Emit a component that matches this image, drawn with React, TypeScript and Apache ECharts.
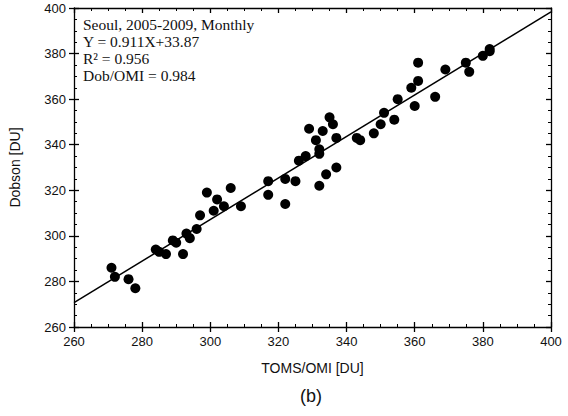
import React, { useEffect, useRef } from "react";
import * as echarts from "echarts";

const xTicks = [260, 280, 300, 320, 340, 360, 380, 400];
const yTicks = [260, 280, 300, 320, 340, 360, 380, 400];

const tomsOmi = [
  271, 272, 276, 278, 284, 285, 287, 289, 290, 292, 293, 294, 296, 297, 299, 301, 302, 304, 306, 309,
  317, 317, 322, 322, 325, 326, 328, 329, 331, 332, 332, 332, 333, 334, 335, 336, 337, 337, 343, 344,
  348, 350, 351, 354, 355, 359, 360, 361, 361, 366, 369, 375, 376, 380, 382, 382,
];
const dobson = [
  286, 282, 281, 277, 294, 293, 292, 298, 297, 292, 301, 299, 303, 309, 319, 311, 316, 313, 321, 313,
  324, 318, 325, 314, 324, 333, 335, 347, 342, 338, 336, 322, 346, 327, 352, 349, 343, 330, 343, 342,
  345, 349, 354, 351, 360, 365, 357, 368, 376, 361, 373, 376, 372, 379, 381, 382,
];

const fitX = [260, 400];
const fitY = [270.7, 398.3];

const annotationLines = [
  "Seoul, 2005-2009, Monthly",
  "Y = 0.911X+33.87",
  "R\u00b2 = 0.956",
  "Dob/OMI = 0.984",
];

const xName = "TOMS/OMI [DU]";
const yName = "Dobson [DU]";
const panelLabel = "(b)";

export default function App() {
  const ref = useRef<HTMLDivElement>(null);
  useEffect(() => {
    if (!ref.current) return;
    const chart = echarts.init(ref.current, null, { renderer: "svg" });
    const black = "#000";
    const axisFont = "Liberation Sans, Arial, sans-serif";
    const lineStyle = { color: black, width: 1.3 };
    const baseX = {
      type: "value" as const,
      min: xTicks[0],
      max: xTicks[xTicks.length - 1],
      interval: 20,
      splitLine: { show: false },
    };
    const baseY = {
      type: "value" as const,
      min: yTicks[0],
      max: yTicks[yTicks.length - 1],
      interval: 20,
      splitLine: { show: false },
    };
    const option: any = {
      animation: false,
      backgroundColor: "#fff",
      grid: { left: 73, right: 17, top: 8, bottom: 89, containLabel: false },
      xAxis: [
        {
          ...baseX,
          position: "bottom",
          name: xName,
          nameLocation: "middle",
          nameGap: 34,
          nameTextStyle: { fontFamily: axisFont, fontSize: 14, color: "#111" },
          axisLine: { show: true, lineStyle },
          axisTick: { show: true, inside: false, length: 5, lineStyle },
          minorTick: { show: false },
          axisLabel: { show: true, fontFamily: axisFont, fontSize: 13, color: "#111", margin: 8 },
        },
        {
          ...baseX,
          position: "bottom",
          axisLine: { show: false },
          axisTick: { show: true, inside: true, length: 5, lineStyle },
          minorTick: { show: true, splitNumber: 4, length: 3, lineStyle: { color: black, width: 1 } },
          axisLabel: { show: false },
        },
        {
          ...baseX,
          position: "top",
          axisLine: { show: true, lineStyle },
          axisTick: { show: true, inside: true, length: 5, lineStyle },
          minorTick: { show: true, splitNumber: 4, length: 3, lineStyle: { color: black, width: 1 } },
          axisLabel: { show: false },
        },
      ],
      yAxis: [
        {
          ...baseY,
          position: "left",
          name: yName,
          nameLocation: "middle",
          nameGap: 52,
          nameTextStyle: { fontFamily: axisFont, fontSize: 14, color: "#111" },
          axisLine: { show: true, lineStyle },
          axisTick: { show: true, inside: false, length: 5, lineStyle },
          minorTick: { show: false },
          axisLabel: { show: true, fontFamily: axisFont, fontSize: 13, color: "#111", margin: 8 },
        },
        {
          ...baseY,
          position: "left",
          axisLine: { show: false },
          axisTick: { show: true, inside: true, length: 5, lineStyle },
          minorTick: { show: true, splitNumber: 4, length: 3, lineStyle: { color: black, width: 1 } },
          axisLabel: { show: false },
        },
        {
          ...baseY,
          position: "right",
          axisLine: { show: true, lineStyle },
          axisTick: { show: true, inside: true, length: 5, lineStyle },
          minorTick: { show: true, splitNumber: 4, length: 3, lineStyle: { color: black, width: 1 } },
          axisLabel: { show: false },
        },
      ],
      series: [
        {
          type: "line",
          xAxisIndex: 0,
          yAxisIndex: 0,
          data: fitX.map((x, i) => [x, fitY[i]]),
          showSymbol: false,
          symbol: "none",
          lineStyle: { color: black, width: 1.5 },
          z: 3,
        },
        {
          type: "scatter",
          xAxisIndex: 0,
          yAxisIndex: 0,
          data: tomsOmi.map((x, i) => [x, dobson[i]]),
          symbol: "circle",
          symbolSize: 10,
          itemStyle: { color: black, opacity: 1 },
          z: 4,
        },
      ],
      graphic: [
        ...annotationLines.map((t, i) => ({
          type: "text",
          x: 83,
          y: 24 + i * 17,
          style: {
            text: t,
            fontFamily: "Liberation Serif, Times New Roman, serif",
            fontSize: 15.5,
            fill: "#111",
            textAlign: "left",
            textVerticalAlign: "middle",
          },
        })),
        {
          type: "text",
          x: 311,
          y: 396,
          style: {
            text: panelLabel,
            fontFamily: axisFont,
            fontSize: 18,
            fill: "#111",
            textAlign: "center",
            textVerticalAlign: "middle",
          },
        },
      ],
    };
    chart.setOption(option);
    return () => chart.dispose();
  }, []);
  return (
    <div
      ref={ref}
      style={{ position: "fixed", left: 0, top: 0, width: 568, height: 416, background: "#fff" }}
    />
  );
}
